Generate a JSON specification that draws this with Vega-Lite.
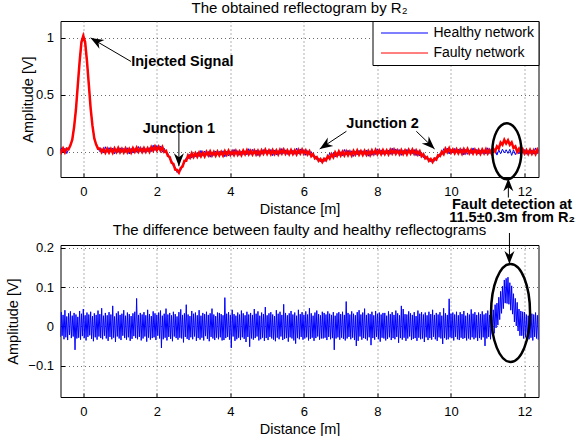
{
  "$schema": "https://vega.github.io/schema/vega-lite/v6.json",
  "padding": {"left": 4.5, "top": 0, "right": 0, "bottom": 0},
  "spacing": 68,
  "bounds": "flush",
  "resolve": {"legend": {"color": "independent"}, "scale": {"color": "independent"}},
  "config": {
    "font": "Liberation Sans",
    "view": {"stroke": "#000", "strokeWidth": 1},
    "axis": {"domain": false, "grid": true, "gridColor": "#444", "gridDash": [1, 3], "gridWidth": 1, "gridOpacity": 0.8,
      "ticks": true, "tickColor": "#000", "tickSize": -4, "labelPadding": 11, "labelFontSize": 13, "labelColor": "#000",
      "labelFont": "Liberation Sans", "titleFont": "Liberation Sans", "titleFontSize": 14.5, "titleFontWeight": "normal", "titleColor": "#000"},
    "axisX": {"titlePadding": 4, "labelPadding": 12},
    "axisY": {"titlePadding": 7},
    "title": {"fontSize": 15, "fontWeight": "normal", "color": "#000", "font": "Liberation Sans", "anchor": "middle"}
  },
  "datasets": {
    "refl": [
{"d":-0.65,"h":-0.006,"f":0.027},{"d":-0.6,"h":0.036,"f":-0.004},{"d":-0.55,"h":-0.002,"f":0.030},{"d":-0.5,"h":0.032,"f":-0.004},{"d":-0.45,"h":-0.014,"f":0.029},
{"d":-0.4,"h":0.023,"f":0.024},{"d":-0.35,"h":0.059,"f":0.058},{"d":-0.3,"h":0.106,"f":0.107},{"d":-0.25,"h":0.219,"f":0.218},{"d":-0.2,"h":0.371,"f":0.372},
{"d":-0.15,"h":0.584,"f":0.583},{"d":-0.1,"h":0.791,"f":0.792},{"d":-0.05,"h":0.964,"f":0.963},{"d":0,"h":1.016,"f":1.017},{"d":0.05,"h":0.964,"f":0.963},
{"d":0.1,"h":0.796,"f":0.797},{"d":0.15,"h":0.594,"f":0.593},{"d":0.2,"h":0.381,"f":0.382},{"d":0.25,"h":0.229,"f":0.228},{"d":0.3,"h":0.116,"f":0.117},
{"d":0.35,"h":0.066,"f":0.065},{"d":0.4,"h":0.028,"f":0.029},{"d":0.45,"h":0.003,"f":0.030},{"d":0.5,"h":0.029,"f":-0.002},{"d":0.55,"h":-0.009,"f":0.025},
{"d":0.6,"h":0.045,"f":-0.007},{"d":0.65,"h":-0.004,"f":0.027},{"d":0.7,"h":0.038,"f":-0.006},{"d":0.75,"h":0.001,"f":0.025},{"d":0.8,"h":0.033,"f":-0.008},
{"d":0.85,"h":-0.017,"f":0.030},{"d":0.9,"h":0.027,"f":-0.001},{"d":0.95,"h":-0.004,"f":0.034},{"d":1.0,"h":0.036,"f":-0.002},{"d":1.05,"h":0.003,"f":0.027},
{"d":1.1,"h":0.031,"f":-0.005},{"d":1.15,"h":0.000,"f":0.030},{"d":1.2,"h":0.036,"f":-0.003},{"d":1.25,"h":-0.018,"f":0.027},{"d":1.3,"h":0.032,"f":-0.005},
{"d":1.35,"h":-0.010,"f":0.033},{"d":1.4,"h":0.028,"f":0.002},{"d":1.45,"h":-0.003,"f":0.037},{"d":1.5,"h":0.047,"f":0.001},{"d":1.55,"h":0.003,"f":0.030},
{"d":1.6,"h":0.036,"f":-0.001},{"d":1.65,"h":-0.004,"f":0.033},{"d":1.7,"h":0.030,"f":0.001},{"d":1.75,"h":0.003,"f":0.032},{"d":1.8,"h":0.037,"f":0.001},
{"d":1.85,"h":0.003,"f":0.041},{"d":1.9,"h":0.059,"f":0.012},{"d":1.95,"h":0.012,"f":0.048},{"d":2.0,"h":0.056,"f":0.014},{"d":2.05,"h":0.020,"f":0.045},
{"d":2.1,"h":0.052,"f":0.013},{"d":2.15,"h":-0.002,"f":0.043},{"d":2.2,"h":0.032,"f":0.000},{"d":2.25,"h":-0.012,"f":0.010},{"d":2.3,"h":-0.013,"f":-0.035},
{"d":2.35,"h":-0.066,"f":-0.045},{"d":2.4,"h":-0.073,"f":-0.095},{"d":2.45,"h":-0.127,"f":-0.105},{"d":2.5,"h":-0.133,"f":-0.155},{"d":2.55,"h":-0.180,"f":-0.158},
{"d":2.6,"h":-0.160,"f":-0.182},{"d":2.65,"h":-0.164,"f":-0.142},{"d":2.7,"h":-0.106,"f":-0.128},{"d":2.75,"h":-0.100,"f":-0.078},{"d":2.8,"h":-0.049,"f":-0.078},
{"d":2.85,"h":-0.062,"f":-0.031},{"d":2.9,"h":-0.020,"f":-0.052},{"d":2.95,"h":-0.054,"f":-0.012},{"d":3.0,"h":-0.017,"f":-0.044},{"d":3.05,"h":-0.042,"f":-0.012},
{"d":3.1,"h":-0.008,"f":-0.042},{"d":3.15,"h":-0.042,"f":-0.006},{"d":3.2,"h":0.013,"f":-0.038},{"d":3.25,"h":-0.035,"f":-0.007},{"d":3.3,"h":0.008,"f":-0.039},
{"d":3.35,"h":-0.029,"f":0.000},{"d":3.4,"h":0.004,"f":-0.030},{"d":3.45,"h":-0.046,"f":0.004},{"d":3.5,"h":-0.001,"f":-0.031},{"d":3.55,"h":-0.032,"f":-0.001},
{"d":3.6,"h":0.008,"f":-0.033},{"d":3.65,"h":-0.024,"f":0.002},{"d":3.7,"h":0.005,"f":-0.030},{"d":3.75,"h":-0.027,"f":0.000},{"d":3.8,"h":0.010,"f":-0.032},
{"d":3.85,"h":-0.043,"f":0.007},{"d":3.9,"h":0.006,"f":-0.024},{"d":3.95,"h":-0.035,"f":0.011},{"d":4.0,"h":0.004,"f":-0.024},{"d":4.05,"h":-0.028,"f":0.005},
{"d":4.1,"h":0.022,"f":-0.027},{"d":4.15,"h":-0.021,"f":0.008},{"d":4.2,"h":0.011,"f":-0.025},{"d":4.25,"h":-0.029,"f":0.005},{"d":4.3,"h":0.005,"f":-0.027},
{"d":4.35,"h":-0.023,"f":0.011},{"d":4.4,"h":0.009,"f":-0.020},{"d":4.45,"h":-0.026,"f":0.015},{"d":4.5,"h":0.028,"f":-0.021},{"d":4.55,"h":-0.021,"f":0.008},
{"d":4.6,"h":0.022,"f":-0.023},{"d":4.65,"h":-0.016,"f":0.011},{"d":4.7,"h":0.016,"f":-0.022},{"d":4.75,"h":-0.033,"f":0.009},{"d":4.8,"h":0.011,"f":-0.024},
{"d":4.85,"h":-0.021,"f":0.014},{"d":4.9,"h":0.020,"f":-0.016},{"d":4.95,"h":-0.013,"f":0.018},{"d":5.0,"h":0.015,"f":-0.018},{"d":5.05,"h":-0.015,"f":0.013},
{"d":5.1,"h":0.021,"f":-0.019},{"d":5.15,"h":-0.033,"f":0.015},{"d":5.2,"h":0.016,"f":-0.018},{"d":5.25,"h":-0.026,"f":0.012},{"d":5.3,"h":0.012,"f":-0.021},
{"d":5.35,"h":-0.020,"f":0.017},{"d":5.4,"h":0.030,"f":-0.014},{"d":5.45,"h":-0.014,"f":0.020},{"d":5.5,"h":0.018,"f":-0.016},{"d":5.55,"h":-0.022,"f":0.013},
{"d":5.6,"h":0.011,"f":-0.019},{"d":5.65,"h":-0.017,"f":0.015},{"d":5.7,"h":0.015,"f":-0.018},{"d":5.75,"h":-0.021,"f":0.012},{"d":5.8,"h":0.033,"f":-0.021},
{"d":5.85,"h":-0.016,"f":0.017},{"d":5.9,"h":0.026,"f":-0.014},{"d":5.95,"h":-0.012,"f":0.020},{"d":6.0,"h":0.020,"f":-0.016},{"d":6.05,"h":-0.030,"f":0.013},
{"d":6.1,"h":0.011,"f":-0.022},{"d":6.15,"h":-0.028,"f":0.005},{"d":6.2,"h":0.002,"f":-0.038},{"d":6.25,"h":-0.043,"f":-0.020},{"d":6.3,"h":-0.033,"f":-0.057},
{"d":6.35,"h":-0.069,"f":-0.045},{"d":6.4,"h":-0.055,"f":-0.079},{"d":6.45,"h":-0.086,"f":-0.062},{"d":6.5,"h":-0.064,"f":-0.088},{"d":6.55,"h":-0.084,"f":-0.060},
{"d":6.6,"h":-0.050,"f":-0.074},{"d":6.65,"h":-0.062,"f":-0.038},{"d":6.7,"h":-0.010,"f":-0.058},{"d":6.75,"h":-0.046,"f":-0.020},{"d":6.8,"h":-0.008,"f":-0.047},
{"d":6.85,"h":-0.044,"f":-0.005},{"d":6.9,"h":-0.008,"f":-0.033},{"d":6.95,"h":-0.033,"f":0.004},{"d":7.0,"h":0.001,"f":-0.030},{"d":7.05,"h":-0.033,"f":0.001},
{"d":7.1,"h":0.021,"f":-0.031},{"d":7.15,"h":-0.027,"f":0.004},{"d":7.2,"h":0.015,"f":-0.029},{"d":7.25,"h":-0.022,"f":0.002},{"d":7.3,"h":0.010,"f":-0.031},
{"d":7.35,"h":-0.039,"f":0.008},{"d":7.4,"h":0.005,"f":-0.023},{"d":7.45,"h":-0.026,"f":0.012},{"d":7.5,"h":0.014,"f":-0.024},{"d":7.55,"h":-0.018,"f":0.006},
{"d":7.6,"h":0.010,"f":-0.026},{"d":7.65,"h":-0.021,"f":0.009},{"d":7.7,"h":0.015,"f":-0.024},{"d":7.75,"h":-0.038,"f":0.007},{"d":7.8,"h":0.011,"f":-0.026},
{"d":7.85,"h":-0.030,"f":0.013},{"d":7.9,"h":0.008,"f":-0.018},{"d":7.95,"h":-0.023,"f":0.017},{"d":8.0,"h":0.027,"f":-0.019},{"d":8.05,"h":-0.014,"f":0.013},
{"d":8.1,"h":0.018,"f":-0.019},{"d":8.15,"h":-0.022,"f":0.015},{"d":8.2,"h":0.011,"f":-0.018},{"d":8.25,"h":-0.017,"f":0.012},{"d":8.3,"h":0.015,"f":-0.021},
{"d":8.35,"h":-0.021,"f":0.017},{"d":8.4,"h":0.033,"f":-0.014},{"d":8.45,"h":-0.016,"f":0.020},{"d":8.5,"h":0.026,"f":-0.016},{"d":8.55,"h":-0.012,"f":0.013},
{"d":8.6,"h":0.020,"f":-0.019},{"d":8.65,"h":-0.030,"f":0.015},{"d":8.7,"h":0.014,"f":-0.018},{"d":8.75,"h":-0.018,"f":0.012},{"d":8.8,"h":0.022,"f":-0.021},
{"d":8.85,"h":-0.011,"f":0.017},{"d":8.9,"h":0.017,"f":-0.014},{"d":8.95,"h":-0.015,"f":0.020},{"d":9.0,"h":0.021,"f":-0.016},{"d":9.05,"h":-0.033,"f":0.013},
{"d":9.1,"h":0.012,"f":-0.023},{"d":9.15,"h":-0.036,"f":0.005},{"d":9.2,"h":-0.008,"f":-0.038},{"d":9.25,"h":-0.052,"f":-0.020},{"d":9.3,"h":-0.033,"f":-0.057},
{"d":9.35,"h":-0.069,"f":-0.045},{"d":9.4,"h":-0.055,"f":-0.079},{"d":9.45,"h":-0.086,"f":-0.062},{"d":9.5,"h":-0.064,"f":-0.088},{"d":9.55,"h":-0.082,"f":-0.058},
{"d":9.6,"h":-0.044,"f":-0.068},{"d":9.65,"h":-0.052,"f":-0.028},{"d":9.7,"h":-0.012,"f":-0.036},{"d":9.75,"h":-0.026,"f":0.002},{"d":9.8,"h":0.028,"f":-0.019},
{"d":9.85,"h":-0.002,"f":0.027},{"d":9.9,"h":0.033,"f":-0.001},{"d":9.95,"h":-0.018,"f":0.032},{"d":10.0,"h":0.024,"f":-0.006},{"d":10.05,"h":-0.010,"f":0.021},
{"d":10.1,"h":0.030,"f":-0.011},{"d":10.15,"h":-0.004,"f":0.022},{"d":10.2,"h":0.024,"f":-0.011},{"d":10.25,"h":-0.008,"f":0.019},{"d":10.3,"h":0.027,"f":-0.015},
{"d":10.35,"h":-0.027,"f":0.023},{"d":10.4,"h":0.022,"f":-0.008},{"d":10.45,"h":-0.021,"f":0.025},{"d":10.5,"h":0.017,"f":-0.011},{"d":10.55,"h":-0.015,"f":0.018},
{"d":10.6,"h":0.035,"f":-0.014},{"d":10.65,"h":-0.010,"f":0.019},{"d":10.7,"h":0.022,"f":-0.014},{"d":10.75,"h":-0.018,"f":0.016},{"d":10.8,"h":0.015,"f":-0.017},
{"d":10.85,"h":-0.014,"f":0.020},{"d":10.9,"h":0.018,"f":-0.011},{"d":10.95,"h":-0.018,"f":0.023},{"d":11.0,"h":0.036,"f":-0.013},{"d":11.05,"h":-0.013,"f":0.016},
{"d":11.1,"h":0.028,"f":-0.013},{"d":11.15,"h":-0.010,"f":0.027},{"d":11.2,"h":0.022,"f":0.004},{"d":11.25,"h":-0.028,"f":0.048},{"d":11.3,"h":0.016,"f":0.030},
{"d":11.35,"h":-0.016,"f":0.082},{"d":11.4,"h":0.024,"f":0.063},{"d":11.45,"h":-0.009,"f":0.106},{"d":11.5,"h":0.019,"f":0.074},{"d":11.55,"h":-0.013,"f":0.101},
{"d":11.6,"h":0.023,"f":0.062},{"d":11.65,"h":-0.031,"f":0.084},{"d":11.7,"h":0.018,"f":0.035},{"d":11.75,"h":-0.024,"f":0.048},{"d":11.8,"h":0.014,"f":0.000},
{"d":11.85,"h":-0.018,"f":0.028},{"d":11.9,"h":0.032,"f":-0.009},{"d":11.95,"h":-0.012,"f":0.022},{"d":12.0,"h":0.020,"f":-0.014},{"d":12.05,"h":-0.020,"f":0.015},
{"d":12.1,"h":0.013,"f":-0.017},{"d":12.15,"h":-0.015,"f":0.017},{"d":12.2,"h":0.017,"f":-0.016},{"d":12.25,"h":-0.019,"f":0.014},{"d":12.3,"h":0.035,"f":-0.019},
{"d":12.35,"h":-0.014,"f":0.019},{"d":12.4,"h":0.028,"f":-0.012}
    ],
    "diff": [
{"d":-0.65,"v":0.031},{"d":-0.625,"v":-0.027},{"d":-0.6,"v":0.036},{"d":-0.575,"v":-0.024},{"d":-0.55,"v":0.029},{"d":-0.525,"v":-0.033},{"d":-0.5,"v":0.041},{"d":-0.475,"v":-0.028},{"d":-0.45,"v":0.025},{"d":-0.425,"v":-0.035},
{"d":-0.4,"v":0.033},{"d":-0.375,"v":-0.022},{"d":-0.35,"v":0.038},{"d":-0.325,"v":-0.030},{"d":-0.3,"v":0.027},{"d":-0.275,"v":-0.026},{"d":-0.25,"v":0.034},{"d":-0.225,"v":-0.060},{"d":-0.2,"v":0.030},{"d":-0.175,"v":-0.031},
{"d":-0.15,"v":0.024},{"d":-0.125,"v":-0.029},{"d":-0.1,"v":0.039},{"d":-0.075,"v":-0.034},{"d":-0.05,"v":0.032},{"d":-0.025,"v":-0.025},{"d":0,"v":0.044},{"d":0.025,"v":-0.030},{"d":0.05,"v":0.028},{"d":0.075,"v":-0.036},
{"d":0.1,"v":0.035},{"d":0.125,"v":-0.027},{"d":0.15,"v":0.030},{"d":0.175,"v":-0.023},{"d":0.2,"v":0.037},{"d":0.225,"v":-0.032},{"d":0.25,"v":0.026},{"d":0.275,"v":-0.038},{"d":0.3,"v":0.033},{"d":0.325,"v":-0.028},
{"d":0.35,"v":0.029},{"d":0.375,"v":-0.034},{"d":0.4,"v":0.040},{"d":0.425,"v":-0.026},{"d":0.45,"v":0.031},{"d":0.475,"v":-0.030},{"d":0.5,"v":0.046},{"d":0.525,"v":-0.033},{"d":0.55,"v":0.027},{"d":0.575,"v":-0.024},
{"d":0.6,"v":0.034},{"d":0.625,"v":-0.031},{"d":0.65,"v":0.028},{"d":0.675,"v":-0.037},{"d":0.7,"v":0.036},{"d":0.725,"v":-0.027},{"d":0.75,"v":0.030},{"d":0.775,"v":-0.033},{"d":0.8,"v":0.052},{"d":0.825,"v":-0.029},
{"d":0.85,"v":0.025},{"d":0.875,"v":-0.040},{"d":0.9,"v":0.033},{"d":0.925,"v":-0.026},{"d":0.95,"v":0.038},{"d":0.975,"v":-0.031},{"d":1,"v":0.029},{"d":1.025,"v":-0.035},{"d":1.05,"v":0.032},{"d":1.075,"v":-0.024},
{"d":1.1,"v":0.041},{"d":1.125,"v":-0.030},{"d":1.15,"v":0.027},{"d":1.175,"v":-0.034},{"d":1.2,"v":0.035},{"d":1.225,"v":-0.028},{"d":1.25,"v":0.031},{"d":1.275,"v":-0.037},{"d":1.3,"v":0.026},{"d":1.325,"v":-0.032},
{"d":1.35,"v":0.033},{"d":1.375,"v":-0.025},{"d":1.4,"v":0.037},{"d":1.425,"v":-0.030},{"d":1.45,"v":0.071},{"d":1.475,"v":-0.033},{"d":1.5,"v":0.029},{"d":1.525,"v":-0.027},{"d":1.55,"v":0.034},{"d":1.575,"v":-0.036},
{"d":1.6,"v":0.030},{"d":1.625,"v":-0.031},{"d":1.65,"v":0.036},{"d":1.675,"v":-0.026},{"d":1.7,"v":0.028},{"d":1.725,"v":-0.039},{"d":1.75,"v":0.042},{"d":1.775,"v":-0.029},{"d":1.8,"v":0.031},{"d":1.825,"v":-0.034},
{"d":1.85,"v":0.026},{"d":1.875,"v":-0.030},{"d":1.9,"v":0.038},{"d":1.925,"v":-0.028},{"d":1.95,"v":0.033},{"d":1.975,"v":-0.035},{"d":2,"v":0.029},{"d":2.025,"v":-0.024},{"d":2.05,"v":0.035},{"d":2.075,"v":-0.031},
{"d":2.1,"v":0.040},{"d":2.125,"v":-0.055},{"d":2.15,"v":0.027},{"d":2.175,"v":-0.033},{"d":2.2,"v":0.032},{"d":2.225,"v":-0.029},{"d":2.25,"v":0.045},{"d":2.275,"v":-0.036},{"d":2.3,"v":0.030},{"d":2.325,"v":-0.027},
{"d":2.35,"v":0.034},{"d":2.375,"v":-0.032},{"d":2.4,"v":0.028},{"d":2.425,"v":-0.038},{"d":2.45,"v":0.037},{"d":2.475,"v":-0.026},{"d":2.5,"v":0.031},{"d":2.525,"v":-0.030},{"d":2.55,"v":0.025},{"d":2.575,"v":-0.034},
{"d":2.6,"v":0.036},{"d":2.625,"v":-0.029},{"d":2.65,"v":0.043},{"d":2.675,"v":-0.031},{"d":2.7,"v":0.029},{"d":2.725,"v":-0.041},{"d":2.75,"v":0.033},{"d":2.775,"v":-0.027},{"d":2.8,"v":0.055},{"d":2.825,"v":-0.032},
{"d":2.85,"v":0.030},{"d":2.875,"v":-0.035},{"d":2.9,"v":0.026},{"d":2.925,"v":-0.028},{"d":2.95,"v":0.039},{"d":2.975,"v":-0.033},{"d":3,"v":0.032},{"d":3.025,"v":-0.026},{"d":3.05,"v":0.035},{"d":3.075,"v":-0.037},
{"d":3.1,"v":0.028},{"d":3.125,"v":-0.030},{"d":3.15,"v":0.041},{"d":3.175,"v":-0.034},{"d":3.2,"v":0.027},{"d":3.225,"v":-0.029},{"d":3.25,"v":0.034},{"d":3.275,"v":-0.036},{"d":3.3,"v":0.031},{"d":3.325,"v":-0.025},
{"d":3.35,"v":0.037},{"d":3.375,"v":-0.032},{"d":3.4,"v":0.029},{"d":3.425,"v":-0.038},{"d":3.45,"v":0.033},{"d":3.475,"v":-0.027},{"d":3.5,"v":0.045},{"d":3.525,"v":-0.031},{"d":3.55,"v":0.030},{"d":3.575,"v":-0.035},
{"d":3.6,"v":0.026},{"d":3.625,"v":-0.029},{"d":3.65,"v":0.035},{"d":3.675,"v":-0.033},{"d":3.7,"v":0.034},{"d":3.725,"v":-0.028},{"d":3.75,"v":0.031},{"d":3.775,"v":-0.036},{"d":3.8,"v":0.028},{"d":3.825,"v":-0.035},
{"d":3.85,"v":0.073},{"d":3.875,"v":-0.030},{"d":3.9,"v":0.032},{"d":3.925,"v":-0.027},{"d":3.95,"v":0.036},{"d":3.975,"v":-0.034},{"d":4,"v":0.029},{"d":4.025,"v":-0.055},{"d":4.05,"v":0.042},{"d":4.075,"v":-0.026},
{"d":4.1,"v":0.031},{"d":4.125,"v":-0.037},{"d":4.15,"v":0.027},{"d":4.175,"v":-0.033},{"d":4.2,"v":0.035},{"d":4.225,"v":-0.029},{"d":4.25,"v":0.030},{"d":4.275,"v":-0.035},{"d":4.3,"v":0.040},{"d":4.325,"v":-0.028},
{"d":4.35,"v":0.033},{"d":4.375,"v":-0.032},{"d":4.4,"v":0.028},{"d":4.425,"v":-0.040},{"d":4.45,"v":0.037},{"d":4.475,"v":-0.027},{"d":4.5,"v":0.030},{"d":4.525,"v":-0.052},{"d":4.55,"v":0.034},{"d":4.575,"v":-0.031},
{"d":4.6,"v":0.029},{"d":4.625,"v":-0.034},{"d":4.65,"v":0.044},{"d":4.675,"v":-0.030},{"d":4.7,"v":0.032},{"d":4.725,"v":-0.026},{"d":4.75,"v":0.038},{"d":4.775,"v":-0.036},{"d":4.8,"v":0.027},{"d":4.825,"v":-0.033},
{"d":4.85,"v":0.035},{"d":4.875,"v":-0.029},{"d":4.9,"v":0.031},{"d":4.925,"v":-0.037},{"d":4.95,"v":0.049},{"d":4.975,"v":-0.030},{"d":5,"v":0.028},{"d":5.025,"v":-0.035},{"d":5.05,"v":0.033},{"d":5.075,"v":-0.027},
{"d":5.1,"v":0.036},{"d":5.125,"v":-0.031},{"d":5.15,"v":0.030},{"d":5.175,"v":-0.034},{"d":5.2,"v":0.026},{"d":5.225,"v":-0.038},{"d":5.25,"v":0.041},{"d":5.275,"v":-0.029},{"d":5.3,"v":0.032},{"d":5.325,"v":-0.033},
{"d":5.35,"v":0.037},{"d":5.375,"v":-0.026},{"d":5.4,"v":0.029},{"d":5.425,"v":-0.035},{"d":5.45,"v":0.056},{"d":5.475,"v":-0.032},{"d":5.5,"v":0.034},{"d":5.525,"v":-0.030},{"d":5.55,"v":0.028},{"d":5.575,"v":-0.039},
{"d":5.6,"v":0.033},{"d":5.625,"v":-0.028},{"d":5.65,"v":0.039},{"d":5.675,"v":-0.031},{"d":5.7,"v":0.030},{"d":5.725,"v":-0.036},{"d":5.75,"v":0.035},{"d":5.775,"v":-0.044},{"d":5.8,"v":0.027},{"d":5.825,"v":-0.030},
{"d":5.85,"v":0.042},{"d":5.875,"v":-0.033},{"d":5.9,"v":0.031},{"d":5.925,"v":-0.027},{"d":5.95,"v":0.036},{"d":5.975,"v":-0.034},{"d":6,"v":0.029},{"d":6.025,"v":-0.031},{"d":6.05,"v":0.038},{"d":6.075,"v":-0.028},
{"d":6.1,"v":0.030},{"d":6.125,"v":-0.036},{"d":6.15,"v":0.046},{"d":6.175,"v":-0.032},{"d":6.2,"v":0.033},{"d":6.225,"v":-0.029},{"d":6.25,"v":0.027},{"d":6.275,"v":-0.037},{"d":6.3,"v":0.035},{"d":6.325,"v":-0.030},
{"d":6.35,"v":0.040},{"d":6.375,"v":-0.026},{"d":6.4,"v":0.031},{"d":6.425,"v":-0.034},{"d":6.45,"v":0.028},{"d":6.475,"v":-0.031},{"d":6.5,"v":0.037},{"d":6.525,"v":-0.031},{"d":6.55,"v":0.034},{"d":6.575,"v":-0.029},
{"d":6.6,"v":0.030},{"d":6.625,"v":-0.035},{"d":6.65,"v":0.038},{"d":6.675,"v":-0.027},{"d":6.7,"v":0.032},{"d":6.725,"v":-0.033},{"d":6.75,"v":0.029},{"d":6.775,"v":-0.030},{"d":6.8,"v":0.036},{"d":6.825,"v":-0.060},
{"d":6.85,"v":0.027},{"d":6.875,"v":-0.031},{"d":6.9,"v":0.033},{"d":6.925,"v":-0.028},{"d":6.95,"v":0.036},{"d":6.975,"v":-0.034},{"d":7,"v":0.031},{"d":7.025,"v":-0.029},{"d":7.05,"v":0.037},{"d":7.075,"v":-0.032},
{"d":7.1,"v":0.029},{"d":7.125,"v":-0.036},{"d":7.15,"v":0.063},{"d":7.175,"v":-0.031},{"d":7.2,"v":0.034},{"d":7.225,"v":-0.027},{"d":7.25,"v":0.030},{"d":7.275,"v":-0.033},{"d":7.3,"v":0.038},{"d":7.325,"v":-0.029},
{"d":7.35,"v":0.032},{"d":7.375,"v":-0.035},{"d":7.4,"v":0.028},{"d":7.425,"v":-0.050},{"d":7.45,"v":0.036},{"d":7.475,"v":-0.037},{"d":7.5,"v":0.041},{"d":7.525,"v":-0.026},{"d":7.55,"v":0.030},{"d":7.575,"v":-0.034},
{"d":7.6,"v":0.035},{"d":7.625,"v":-0.030},{"d":7.65,"v":0.045},{"d":7.675,"v":-0.032},{"d":7.7,"v":0.029},{"d":7.725,"v":-0.036},{"d":7.75,"v":0.033},{"d":7.775,"v":-0.028},{"d":7.8,"v":0.031},{"d":7.825,"v":-0.048},
{"d":7.85,"v":0.037},{"d":7.875,"v":-0.030},{"d":7.9,"v":0.028},{"d":7.925,"v":-0.034},{"d":7.95,"v":0.039},{"d":7.975,"v":-0.027},{"d":8,"v":0.032},{"d":8.025,"v":-0.033},{"d":8.05,"v":0.035},{"d":8.075,"v":-0.039},
{"d":8.1,"v":0.030},{"d":8.125,"v":-0.029},{"d":8.15,"v":0.034},{"d":8.175,"v":-0.031},{"d":8.2,"v":0.034},{"d":8.225,"v":-0.036},{"d":8.25,"v":0.027},{"d":8.275,"v":-0.032},{"d":8.3,"v":0.038},{"d":8.325,"v":-0.028},
{"d":8.35,"v":0.031},{"d":8.375,"v":-0.035},{"d":8.4,"v":0.036},{"d":8.425,"v":-0.030},{"d":8.45,"v":0.029},{"d":8.475,"v":-0.033},{"d":8.5,"v":0.040},{"d":8.525,"v":-0.027},{"d":8.55,"v":0.033},{"d":8.575,"v":-0.042},
{"d":8.6,"v":0.028},{"d":8.625,"v":-0.030},{"d":8.65,"v":0.052},{"d":8.675,"v":-0.034},{"d":8.7,"v":0.044},{"d":8.725,"v":-0.029},{"d":8.75,"v":0.031},{"d":8.775,"v":-0.037},{"d":8.8,"v":0.030},{"d":8.825,"v":-0.031},
{"d":8.85,"v":0.038},{"d":8.875,"v":-0.026},{"d":8.9,"v":0.033},{"d":8.925,"v":-0.035},{"d":8.95,"v":0.029},{"d":8.975,"v":-0.032},{"d":9,"v":0.036},{"d":9.025,"v":-0.030},{"d":9.05,"v":0.026},{"d":9.075,"v":-0.037},
{"d":9.1,"v":0.040},{"d":9.125,"v":-0.029},{"d":9.15,"v":0.032},{"d":9.175,"v":-0.033},{"d":9.2,"v":0.036},{"d":9.225,"v":-0.031},{"d":9.25,"v":0.030},{"d":9.275,"v":-0.040},{"d":9.3,"v":0.035},{"d":9.325,"v":-0.028},
{"d":9.35,"v":0.028},{"d":9.375,"v":-0.035},{"d":9.4,"v":0.037},{"d":9.425,"v":-0.030},{"d":9.45,"v":0.031},{"d":9.475,"v":-0.034},{"d":9.5,"v":0.042},{"d":9.525,"v":-0.027},{"d":9.55,"v":0.029},{"d":9.575,"v":-0.033},
{"d":9.6,"v":0.034},{"d":9.625,"v":-0.037},{"d":9.65,"v":0.030},{"d":9.675,"v":-0.028},{"d":9.7,"v":0.036},{"d":9.725,"v":-0.031},{"d":9.75,"v":0.027},{"d":9.775,"v":-0.045},{"d":9.8,"v":0.046},{"d":9.825,"v":-0.030},
{"d":9.85,"v":0.033},{"d":9.875,"v":-0.034},{"d":9.9,"v":0.029},{"d":9.925,"v":-0.033},{"d":9.95,"v":0.070},{"d":9.975,"v":-0.028},{"d":10,"v":0.032},{"d":10.025,"v":-0.030},{"d":10.05,"v":0.035},{"d":10.075,"v":-0.036},
{"d":10.1,"v":0.030},{"d":10.125,"v":-0.027},{"d":10.15,"v":0.037},{"d":10.175,"v":-0.033},{"d":10.2,"v":0.028},{"d":10.225,"v":-0.035},{"d":10.25,"v":0.036},{"d":10.275,"v":-0.029},{"d":10.3,"v":0.031},{"d":10.325,"v":-0.032},
{"d":10.35,"v":0.039},{"d":10.375,"v":-0.030},{"d":10.4,"v":0.027},{"d":10.425,"v":-0.036},{"d":10.45,"v":0.034},{"d":10.475,"v":-0.031},{"d":10.5,"v":0.030},{"d":10.525,"v":-0.034},{"d":10.55,"v":0.043},{"d":10.575,"v":-0.028},
{"d":10.6,"v":0.032},{"d":10.625,"v":-0.033},{"d":10.65,"v":0.036},{"d":10.675,"v":-0.029},{"d":10.7,"v":0.029},{"d":10.725,"v":-0.037},{"d":10.75,"v":0.035},{"d":10.775,"v":-0.030},{"d":10.8,"v":0.031},{"d":10.825,"v":-0.034},
{"d":10.85,"v":0.038},{"d":10.875,"v":-0.028},{"d":10.9,"v":0.030},{"d":10.925,"v":-0.050},{"d":10.95,"v":0.033},{"d":10.975,"v":-0.031},{"d":11,"v":0.040},{"d":11.025,"v":-0.027},{"d":11.05,"v":0.029},{"d":11.075,"v":-0.033},
{"d":11.1,"v":0.040},{"d":11.125,"v":-0.021},{"d":11.15,"v":0.042},{"d":11.175,"v":-0.018},{"d":11.2,"v":0.055},{"d":11.225,"v":-0.004},{"d":11.25,"v":0.059},{"d":11.275,"v":0.003},{"d":11.3,"v":0.074},{"d":11.325,"v":0.017},
{"d":11.35,"v":0.089},{"d":11.375,"v":0.033},{"d":11.4,"v":0.102},{"d":11.425,"v":0.045},{"d":11.45,"v":0.118},{"d":11.475,"v":0.059},{"d":11.5,"v":0.122},{"d":11.525,"v":0.058},{"d":11.55,"v":0.125},{"d":11.575,"v":0.056},
{"d":11.6,"v":0.111},{"d":11.625,"v":0.041},{"d":11.65,"v":0.103},{"d":11.675,"v":0.031},{"d":11.7,"v":0.083},{"d":11.725,"v":0.011},{"d":11.75,"v":0.071},{"d":11.775,"v":0.001},{"d":11.8,"v":0.061},{"d":11.825,"v":-0.012},
{"d":11.85,"v":0.044},{"d":11.875,"v":-0.024},{"d":11.9,"v":0.039},{"d":11.925,"v":-0.024},{"d":11.95,"v":0.037},{"d":11.975,"v":-0.031},{"d":12,"v":0.036},{"d":12.025,"v":-0.028},{"d":12.05,"v":0.030},{"d":12.075,"v":-0.034},
{"d":12.1,"v":0.027},{"d":12.125,"v":-0.033},{"d":12.15,"v":0.039},{"d":12.175,"v":-0.029},{"d":12.2,"v":0.032},{"d":12.225,"v":-0.036},{"d":12.25,"v":0.030},{"d":12.275,"v":-0.027},{"d":12.3,"v":0.035},{"d":12.325,"v":-0.031},
{"d":12.35,"v":0.028},{"d":12.375,"v":-0.034},{"d":12.4,"v":0.033}
    ],
    "labelsTop": [
      {"x": 2.695, "y": 0.79, "t": "Injected Signal"},
      {"x": 2.6, "y": 0.198, "t": "Junction 1"},
      {"x": 8.14, "y": 0.246, "t": "Junction 2"},
      {"x": 11.66, "y": -0.465, "t": "Fault detection at"},
      {"x": 11.66, "y": -0.576, "t": "11.5±0.3m from R₂"}
    ],
    "arrowsTop": [
      {"id": "inj", "x": 1.296, "y": 0.793, "x2": 0.2, "y2": 1.0},
      {"id": "j1", "x": 2.6, "y": 0.167, "x2": 2.6, "y2": -0.126},
      {"id": "j2a", "x": 7.156, "y": 0.181, "x2": 6.43, "y2": 0.026},
      {"id": "j2b", "x": 9.057, "y": 0.181, "x2": 9.554, "y2": 0.026},
      {"id": "ft", "x": 11.56, "y": -0.4, "x2": 11.56, "y2": -0.23},
      {"id": "fb", "x": 11.59, "y": -0.711, "x2": 11.59, "y2": -0.983}
    ],
    "ellipseTop": [{"x": 11.52, "y": 0.005}],
    "ellipseBottom": [{"x": 11.62, "y": 0.034}]
  },
  "vconcat": [
    {
      "width": 478,
      "height": 156,
      "title": {"text": "The obtained reflectogram by R₂", "offset": 5},
      "layer": [
        {
          "data": {"name": "refl"},
          "mark": {"type": "line", "clip": true, "strokeWidth": 1},
          "encoding": {
            "x": {"field": "d", "type": "quantitative", "title": "Distance [m]", "scale": {"domain": [-0.62, 12.38], "nice": false, "zero": false}, "axis": {"values": [0, 2, 4, 6, 8, 10, 12]}},
            "y": {"field": "h", "type": "quantitative", "title": "Amplitude [V]", "scale": {"domain": [-0.22, 1.148], "nice": false, "zero": false}, "axis": {"values": [0, 0.5, 1], "format": "~g", "titlePadding": 0}},
            "color": {"datum": "Healthy network", "type": "nominal",
              "scale": {"domain": ["Healthy network", "Faulty network"], "range": ["#0000ff", "#ff0000"]},
              "legend": {"title": null, "orient": "top-right", "offset": 0, "padding": 4, "strokeColor": "#000", "fillColor": "#fff",
                "symbolType": "stroke", "symbolSize": 2209, "symbolStrokeWidth": 1, "clipHeight": 16, "labelFontSize": 14, "labelFont": "Liberation Sans",
                "labelColor": "#000", "rowPadding": 4, "labelOffset": 5, "cornerRadius": 0, "symbolOffset": 4}}
          }
        },
        {
          "data": {"name": "refl"},
          "mark": {"type": "line", "clip": true, "strokeWidth": 2.5},
          "encoding": {
            "x": {"field": "d", "type": "quantitative", "title": "Distance [m]"},
            "y": {"field": "f", "type": "quantitative", "title": "Amplitude [V]"},
            "color": {"datum": "Faulty network", "type": "nominal"}
          }
        },
        {
          "data": {"name": "arrowsTop"},
          "mark": {"type": "rule", "color": "#000", "strokeWidth": 1},
          "encoding": {
            "x": {"field": "x", "type": "quantitative", "title": "Distance [m]"},
            "y": {"field": "y", "type": "quantitative", "title": "Amplitude [V]"},
            "x2": {"field": "x2"},
            "y2": {"field": "y2"}
          }
        },
        {
          "data": {"name": "arrowsTop"},
          "transform": [{"filter": "datum.id == 'inj'"}],
          "mark": {"type": "point", "shape": "M0,0L0.833,2.167L0,1.5L-0.833,2.167Z", "size": 144, "filled": true, "color": "#000", "opacity": 1, "angle": 300},
          "encoding": {"x": {"field": "x2", "type": "quantitative", "title": "Distance [m]"}, "y": {"field": "y2", "type": "quantitative", "title": "Amplitude [V]"}}
        },
        {
          "data": {"name": "arrowsTop"},
          "transform": [{"filter": "datum.id == 'j1' || datum.id == 'fb'"}],
          "mark": {"type": "point", "shape": "M0,0L0.833,2.167L0,1.5L-0.833,2.167Z", "size": 144, "filled": true, "color": "#000", "opacity": 1, "angle": 180},
          "encoding": {"x": {"field": "x2", "type": "quantitative", "title": "Distance [m]"}, "y": {"field": "y2", "type": "quantitative", "title": "Amplitude [V]"}}
        },
        {
          "data": {"name": "arrowsTop"},
          "transform": [{"filter": "datum.id == 'j2a'"}],
          "mark": {"type": "point", "shape": "M0,0L0.833,2.167L0,1.5L-0.833,2.167Z", "size": 144, "filled": true, "color": "#000", "opacity": 1, "angle": 236.6},
          "encoding": {"x": {"field": "x2", "type": "quantitative", "title": "Distance [m]"}, "y": {"field": "y2", "type": "quantitative", "title": "Amplitude [V]"}}
        },
        {
          "data": {"name": "arrowsTop"},
          "transform": [{"filter": "datum.id == 'j2b'"}],
          "mark": {"type": "point", "shape": "M0,0L0.833,2.167L0,1.5L-0.833,2.167Z", "size": 144, "filled": true, "color": "#000", "opacity": 1, "angle": 133.9},
          "encoding": {"x": {"field": "x2", "type": "quantitative", "title": "Distance [m]"}, "y": {"field": "y2", "type": "quantitative", "title": "Amplitude [V]"}}
        },
        {
          "data": {"name": "arrowsTop"},
          "transform": [{"filter": "datum.id == 'ft'"}],
          "mark": {"type": "point", "shape": "M0,0L0.833,2.167L0,1.5L-0.833,2.167Z", "size": 144, "filled": true, "color": "#000", "opacity": 1, "angle": 0},
          "encoding": {"x": {"field": "x2", "type": "quantitative", "title": "Distance [m]"}, "y": {"field": "y2", "type": "quantitative", "title": "Amplitude [V]"}}
        },
        {
          "data": {"name": "ellipseTop"},
          "mark": {"type": "point", "shape": "M-0.518,0C-0.518,-0.552,-0.286,-1,0,-1C0.286,-1,0.518,-0.552,0.518,0C0.518,0.552,0.286,1,0,1C-0.286,1,-0.518,0.552,-0.518,0Z", "size": 3136, "filled": false, "stroke": "#000", "strokeWidth": 2.5, "opacity": 1},
          "encoding": {"x": {"field": "x", "type": "quantitative", "title": "Distance [m]"}, "y": {"field": "y", "type": "quantitative", "title": "Amplitude [V]"}}
        },
        {
          "data": {"name": "labelsTop"},
          "mark": {"type": "text", "font": "Liberation Sans", "fontWeight": "bold", "fontSize": 14.5, "align": "center", "baseline": "middle", "color": "#000"},
          "encoding": {"x": {"field": "x", "type": "quantitative", "title": "Distance [m]"}, "y": {"field": "y", "type": "quantitative", "title": "Amplitude [V]"}, "text": {"field": "t"}}
        }
      ]
    },
    {
      "width": 478,
      "height": 152,
      "title": {"text": "The difference between faulty and healthy reflectograms", "offset": 4},
      "layer": [
        {
          "data": {"name": "diff"},
          "mark": {"type": "line", "clip": true, "strokeWidth": 1, "color": "#0000ff"},
          "encoding": {
            "x": {"field": "d", "type": "quantitative", "title": "Distance [m]", "scale": {"domain": [-0.62, 12.38], "nice": false, "zero": false}, "axis": {"values": [0, 2, 4, 6, 8, 10, 12]}},
            "y": {"field": "v", "type": "quantitative", "title": "Amplitude [V]", "scale": {"domain": [-0.18, 0.207], "nice": false, "zero": false}, "axis": {"values": [-0.1, 0, 0.1, 0.2], "format": "~g"}}
          }
        },
        {
          "data": {"name": "ellipseBottom"},
          "mark": {"type": "point", "shape": "M-0.398,0C-0.398,-0.552,-0.22,-1,0,-1C0.22,-1,0.398,-0.552,0.398,0C0.398,0.552,0.22,1,0,1C-0.22,1,-0.398,0.552,-0.398,0Z", "size": 9604, "filled": false, "stroke": "#000", "strokeWidth": 2.5, "opacity": 1},
          "encoding": {"x": {"field": "x", "type": "quantitative", "title": "Distance [m]"}, "y": {"field": "y", "type": "quantitative", "title": "Amplitude [V]"}}
        }
      ]
    }
  ]
}
